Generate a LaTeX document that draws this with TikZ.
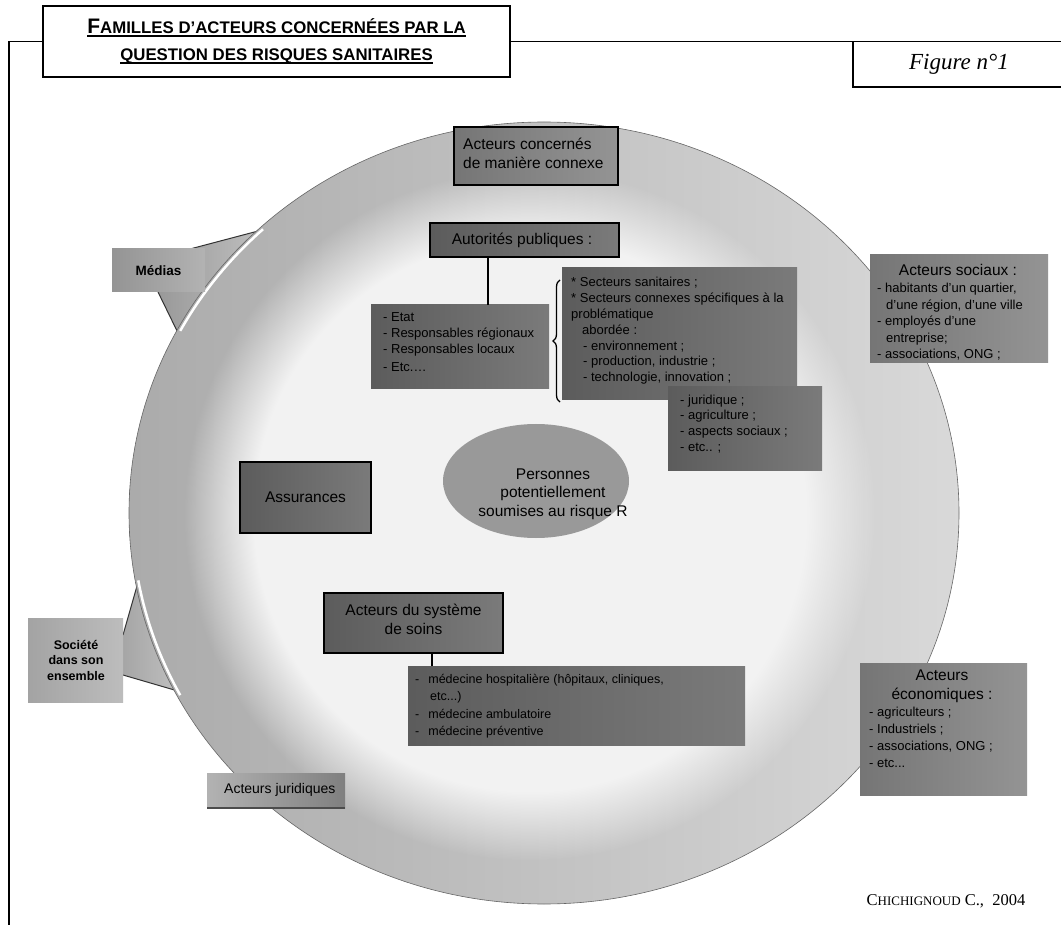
\documentclass[tikz,border=0pt]{standalone}
\usepackage{fontspec}
\setmainfont{Liberation Sans}
\newfontfamily\seriff{Liberation Serif}
\usetikzlibrary{shapes.geometric,decorations.pathreplacing,fadings}
\newcommand\myul[1]{\setbox0\hbox{#1}\rlap{\rule[-3pt]{\wd0}{1.6pt}}\box0}
\begin{document}
\begin{tikzpicture}[x=1pt,y=-1pt,
  bx/.style={anchor=north west, inner sep=0pt, outer sep=0pt},
  frameline/.style={line width=1.8pt, black},
  thickbox/.style={draw=black, line width=2.2pt},
  shdark/.style={left color=black!64, right color=black!52},
  shmid/.style={left color=black!54, right color=black!42},
  tl/.style={inner sep=0pt, align=left, anchor=west},
  tc/.style={inner sep=0pt, align=center},
  f13/.style={font=\fontsize{13}{15.8}\selectfont},
  f15/.style={font=\fontsize{15.5}{19}\selectfont},
  coneedge/.style={black!80, line width=1pt},
  link/.style={black, line width=1.3pt},
  glint/.style={white, line width=2.5pt},
]
\useasboundingbox (0,0) rectangle (1061,925);
\fill[white] (0,0) rectangle (1061,925);

% cones of the callouts
\shade[left color=black!40, right color=black!25] (190,249) -- (262,230) -- (180,337) -- (158,292) -- cycle;
\draw[coneedge] (190,249) -- (262,230);
\draw[coneedge] (158,292) -- (180,337);
\shade[left color=black!35, right color=black!22] (123,635) -- (141,572) -- (195,696) -- (123,675) -- cycle;
\draw[coneedge] (123,635) -- (141,572);
\draw[coneedge] (123,675) -- (195,696);

% big circle
\shade[left color=black!33, right color=black!15] (544,513) ellipse [x radius=415, y radius=391];
\fill[black!5, path fading=circle with fuzzy edge 20 percent] (530,515) circle (345);
\draw[glint] plot[domain=208:227, samples=20] ({544+412*cos(\x)}, {513+388*sin(\x)});
\draw[glint] plot[domain=152:170, samples=20] ({544+412*cos(\x)}, {513+388*sin(\x)});
\draw[black!60, line width=0.6pt] (544,513) ellipse [x radius=415, y radius=391];

% title and frame
\node[bx, draw=black, line width=1.8pt, fill=white, minimum width=467, minimum height=71] (title) at (43,6) {};
\draw[frameline] (9,925) -- (9,41.5) -- (title.west);
\draw[frameline] (title.east) -- (1061,41.5);
\node[tc, font=\bfseries\fontsize{16.8}{27}\selectfont] (titlet) at (title.center) {\myul{{\fontsize{21}{21}\selectfont F}AMILLES D’ACTEURS CONCERNÉES PAR LA}\\\myul{QUESTION DES RISQUES SANITAIRES}};

\draw[frameline] (853,41.5) -- (853,87) -- (1061,87);
\node[font=\seriff\itshape\fontsize{23}{23}\selectfont, inner sep=0pt] (fig) at (959,64) {Figure n°1};

% top boxes
\node[bx, thickbox, shmid, minimum width=164, minimum height=58] (conc) at (454,127) {};
\node[tl, f15] (conct) at (463,153) {Acteurs concernés\\de manière connexe};

\node[bx, thickbox, shdark, minimum width=189, minimum height=34] (auto) at (430,223) {};
\node[tc, f15] (autot) at (522,240) {Autorités publiques :};

\node[bx, shdark, minimum width=178, minimum height=84] (etat) at (371,305) {};
\node[tl, f13] (etatt) at (383,342) {- Etat\\- Responsables régionaux\\- Responsables locaux\\[2pt]- Etc.…};
\coordinate (autoline) at ([xshift=58pt]auto.south west);
\draw[link] (autoline) -- (autoline |- etat.north);

\node[bx, shdark, minimum width=235, minimum height=132] (sect) at (562,268) {};
\node[tl, f13] (sectt) at (571,331) {* Secteurs sanitaires ;\\* Secteurs connexes spécifiques à la\\problématique\\\hspace*{11pt}abordée :\\\hspace*{12pt}- environnement ;\\\hspace*{12pt}- production, industrie ;\\\hspace*{12pt}- technologie, innovation ;};
\draw[decorate, decoration={brace, amplitude=7pt}, line width=1.3pt] (560,402) -- (560,280);

\node[bx, shdark, minimum width=154, minimum height=83] (jur) at (668,387) {};
\node[tl, f13] (jurt) at (680,424) {- juridique ;\\- agriculture ;\\- aspects sociaux ;\\- etc.. ;};

% centre
\node[ellipse, fill=black!40, minimum width=186, minimum height=114, inner sep=0pt] (pers) at (536,481) {};
\node[tc, font=\fontsize{15.5}{18.5}\selectfont] (perst) at (553,494) {Personnes\\potentiellement\\soumises au risque R};

\node[bx, thickbox, shdark, minimum width=131, minimum height=71] (assur) at (240,462) {};
\node[tc, f15] (assurt) at (assur.center) {Assurances};

\node[bx, thickbox, shdark, minimum width=179, minimum height=60] (soins) at (324,593) {};
\node[tc, f15] (soinst) at ([yshift=4pt]soins.center) {Acteurs du système\\de soins};

\node[bx, shdark, minimum width=337, minimum height=79] (med) at (408,666) {};
\node[tl, font=\fontsize{12.5}{17.5}\selectfont] (medt) at (415,706) {-\hspace{9pt}médecine hospitalière (hôpitaux, cliniques,\\\hspace*{15pt}etc...)\\-\hspace{9pt}médecine ambulatoire\\-\hspace{9pt}médecine préventive};
\coordinate (medline) at ([xshift=24pt]med.north west);
\draw[link] (medline) -- (medline |- soins.south);

% right side
\node[bx, shmid, minimum width=178, minimum height=108] (soc) at (870,255) {};
\node[tc, f15] (soch) at (958,270) {Acteurs sociaux :};
\node[tl, font=\fontsize{13}{16.5}\selectfont] (soct) at (877,322) {- habitants d'un quartier,\\\hspace*{9pt}d'une région, d'une ville\\- employés d'une\\\hspace*{9pt}entreprise;\\- associations, ONG ;};

\node[bx, shmid, minimum width=167, minimum height=132] (eco) at (860,663) {};
\node[tc, f15] (ecoh) at (942,686) {Acteurs\\économiques :};
\node[tl, font=\fontsize{13}{17}\selectfont] (ecot) at (869,737.5) {- agriculteurs ;\\- Industriels ;\\- associations, ONG ;\\- etc...};

% left side
\node[bx, left color=black!42, right color=black!30, minimum width=93, minimum height=43] (medias) at (112,249) {};
\node[tc, font=\bfseries\fontsize{13.5}{16}\selectfont] (mediast) at (medias.center) {Médias};

\node[bx, left color=black!36, right color=black!26, minimum width=95, minimum height=84] (societe) at (28,618) {};
\node[tc, font=\bfseries\fontsize{12.5}{15.5}\selectfont] (societet) at (76,660) {Société\\dans son\\ensemble};

\node[bx, left color=black!30, right color=black!50, minimum width=138, minimum height=35] (acjur) at (207,773) {};
\draw[black!70, line width=1.2pt] (acjur.south west) -- (acjur.south east);
\node[tl, font=\fontsize{14}{16}\selectfont] (acjurt) at (224,790) {Acteurs juridiques};

\node[font=\seriff\fontsize{16.5}{16.5}\selectfont, inner sep=0pt] (credit) at (946,901) {C{\fontsize{13}{13}\selectfont HICHIGNOUD} C.,~~2004};
\end{tikzpicture}
\end{document}
